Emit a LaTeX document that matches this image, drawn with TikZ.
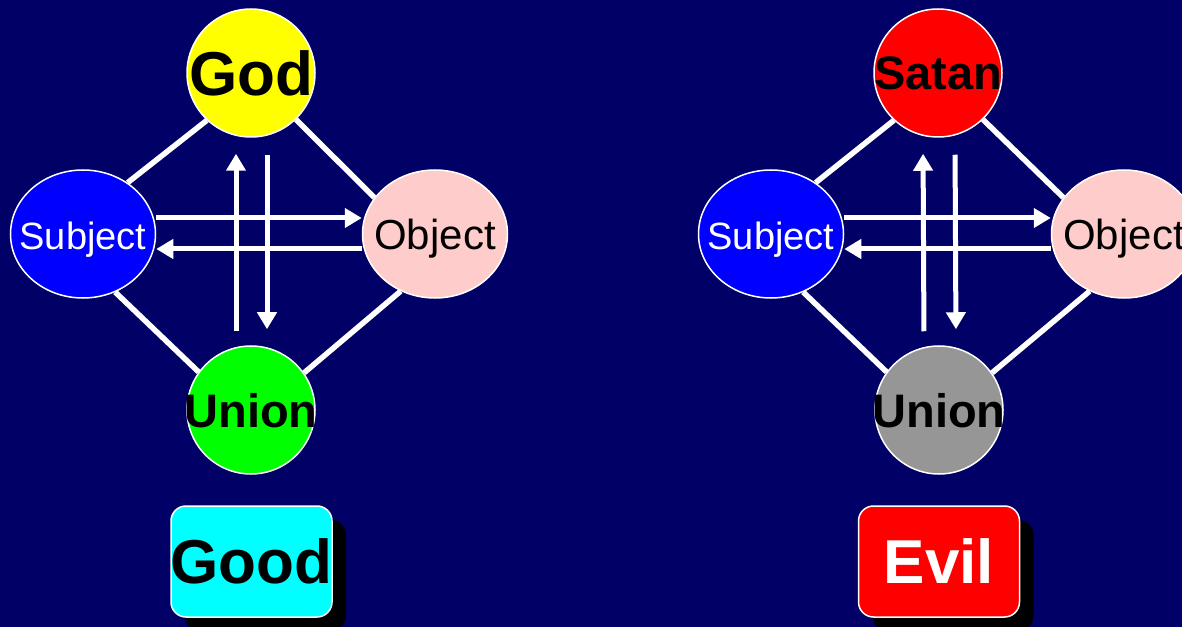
\documentclass[tikz,border=0pt]{standalone}
\usepackage{fontspec}
\setmainfont{Liberation Sans}
\usetikzlibrary{shapes.geometric,arrows.meta,shadows}
\definecolor{navy}{HTML}{000066}
\definecolor{pinkobj}{HTML}{FFCCCC}
\definecolor{grayunion}{HTML}{969696}
\definecolor{goodcyan}{HTML}{00FFFF}
\definecolor{godyellow}{HTML}{FFFF00}
\definecolor{uniongreen}{HTML}{00FF00}
\definecolor{subjblue}{HTML}{0000FF}
\definecolor{evilred}{HTML}{FF0000}
\begin{document}
\begin{tikzpicture}[
  x=1bp, y=-1bp,
  bignode/.style={circle, draw=white, line width=1.5bp, minimum size=128bp, inner sep=0pt, text depth=0pt, font=\fontsize{47bp}{54bp}\selectfont\bfseries},
  onode/.style={ellipse, draw=white, line width=1.5bp, minimum width=145bp, minimum height=128bp, inner sep=0pt, text depth=0pt, font=\fontsize{38bp}{46bp}\selectfont},
  tag/.style={rectangle, rounded corners=15bp, draw=white, line width=1.5bp, minimum width=161bp, minimum height=111bp, inner sep=0pt, text depth=0pt, font=\fontsize{62bp}{70bp}\selectfont\bfseries, drop shadow={fill=black, opacity=1, shadow xshift=14bp, shadow yshift=-14bp}},
  link/.style={white, line width=5.5bp},
  flow/.style={white, line width=5bp, -{Triangle[width=19bp, length=17bp]}}
]
  \fill[navy] (0,0) rectangle (1182,627);
  \useasboundingbox (0,0) rectangle (1182,627);

  \node[bignode, fill=godyellow, font=\fontsize{62bp}{70bp}\selectfont\bfseries] (god) at (251,73) {\makebox[0pt]{God}};
  \node[onode, fill=subjblue, text=white] (subjL) at (83,234) {\makebox[0pt]{\raisebox{-4bp}{Subject}}};
  \node[onode, fill=pinkobj, font=\fontsize{42bp}{50bp}\selectfont] (objL) at (435,234) {\makebox[0pt]{Object}};
  \node[bignode, fill=uniongreen] (unionL) at (251,410) {\makebox[0pt]{Union}};
  \node[tag, fill=goodcyan] (good) at (251.5,561.5) {\makebox[0pt]{Good}};

  \node[bignode, fill=evilred] (satan) at (938,73) {\makebox[0pt]{Satan}};
  \node[onode, fill=subjblue, text=white] (subjR) at (771,234) {\makebox[0pt]{\raisebox{-4bp}{Subject}}};
  \node[onode, fill=pinkobj, font=\fontsize{42bp}{50bp}\selectfont] (objR) at (1124,234) {\makebox[0pt]{Object}};
  \node[bignode, fill=grayunion] (unionR) at (939,410) {\makebox[0pt]{Union}};
  \node[tag, fill=evilred, text=white] (evil) at (939,561.5) {\makebox[0pt]{Evil}};

  \draw[link] (god.227) -- (subjL.49);
  \draw[link] (god.314) -- (objL.149);
  \draw[link] (subjL.299) -- (unionL.144);
  \draw[link] (objL.239) -- (unionL.35);
  \draw[flow, shorten <=14bp, shorten >=16bp] ([xshift=-15bp]unionL.north) -- ([xshift=-15bp]god.south);
  \draw[flow, shorten <=17bp, shorten >=16bp] ([xshift=16bp]god.south) -- ([xshift=16bp]unionL.north);
  \draw[flow] ([yshift=16bp]subjL.east) -- ([yshift=16bp]objL.west);
  \draw[flow] ([yshift=-15bp]objL.west) -- ([yshift=-15bp]subjL.east);

  \draw[link] (satan.227) -- (subjR.49);
  \draw[link] (satan.314) -- (objR.149);
  \draw[link] (subjR.299) -- (unionR.144);
  \draw[link] (objR.239) -- (unionR.35);
  \draw[flow, shorten <=14bp, shorten >=16bp] ([xshift=-15bp]unionR.north) -- ([xshift=-15bp]satan.south);
  \draw[flow, shorten <=17bp, shorten >=16bp] ([xshift=17bp]satan.south) -- ([xshift=17bp]unionR.north);
  \draw[flow] ([yshift=16bp]subjR.east) -- ([yshift=16bp]objR.west);
  \draw[flow] ([yshift=-15bp]objR.west) -- ([yshift=-15bp]subjR.east);
\end{tikzpicture}
\end{document}
